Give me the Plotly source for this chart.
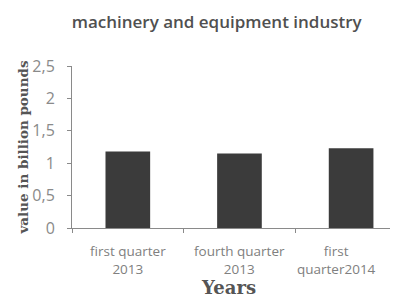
import plotly.graph_objects as go

categories = ["first quarter<br>2013", "fourth quarter<br>2013", "first<br>quarter2014"]
values = [1.18, 1.15, 1.23]
y_ticks = [0, 0.5, 1, 1.5, 2, 2.5]

fig = go.Figure(go.Bar(x=categories, y=values, marker=dict(color="#3b3b3b", line=dict(width=0)), width=0.4))

# page body has an 8px margin, so the figure is sized to end at the window edge
fig.update_layout(
    width=390, height=293,
    margin=dict(l=64, r=0, t=58, b=73),
    paper_bgcolor="white", plot_bgcolor="white",
    separators=", ",
    showlegend=False,
    title=dict(text="machinery and equipment industry", x=0.535, xanchor="center", y=0.952, yanchor="middle",
               font=dict(family="Open Sans", size=17, color="#505050", weight=600)),
    font=dict(family="Open Sans", color="#777777"),
)
fig.update_xaxes(
    range=[-0.5, 2.42], showline=True, linecolor="#8a8a8a", linewidth=1,
    ticks="outside", tickson="boundaries", ticklen=4, tickcolor="#8a8a8a",
    showticklabels=False, showgrid=False, automargin=False,
)
fig.update_yaxes(
    range=[0, 2.5], tickvals=y_ticks, showline=True, linecolor="#8a8a8a", linewidth=1,
    ticks="outside", ticklen=4, tickcolor="#8a8a8a", showgrid=False, zeroline=False,
    tickfont=dict(size=16, color="#8a8a8a"), automargin=False, ticklabelstandoff=9,
    title=dict(text="value in billion pounds", font=dict(family="DejaVu Serif", size=13.5, color="#555555", weight="bold"), standoff=0),
)

label_shifts = [0, 0, -15]
for cat, dx in zip(categories, label_shifts):
    fig.add_annotation(x=cat, xref="x", y=0, yref="paper", yanchor="top", xanchor="center",
                       text=cat, showarrow=False, xshift=dx, yshift=-12,
                       font=dict(family="Open Sans", size=13.5, color="#808080"))

fig.add_annotation(x=0.48, xref="paper", y=0, yref="paper", yanchor="bottom", xanchor="center",
                   text="Years", showarrow=False, yshift=-72,
                   font=dict(family="DejaVu Serif", size=18, color="#555555", weight="bold"))

fig.write_html("out.html")
